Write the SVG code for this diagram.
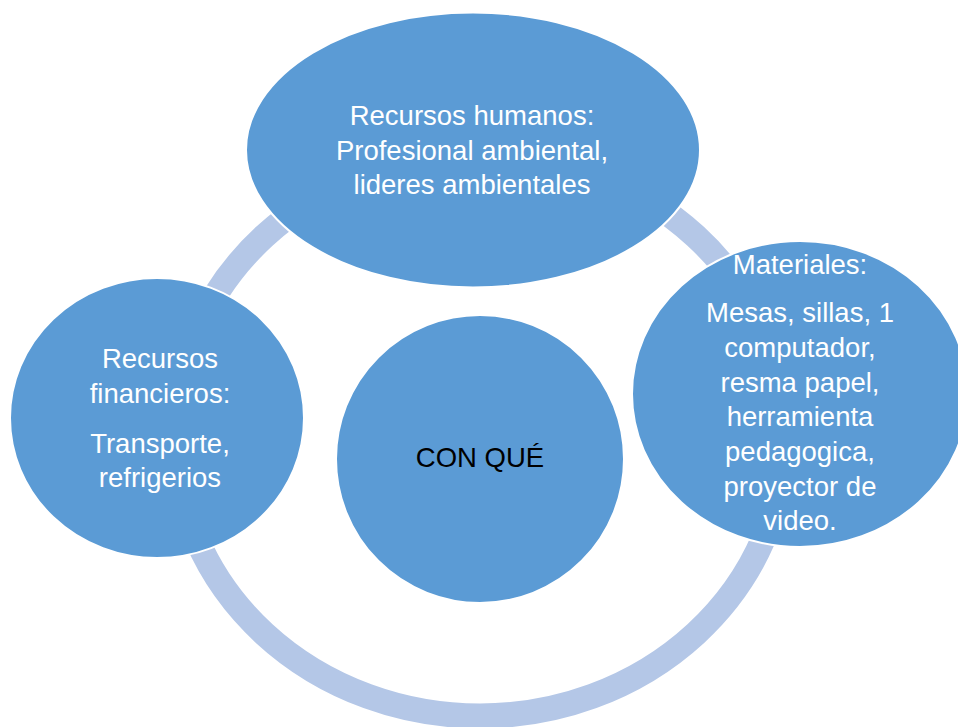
<svg xmlns="http://www.w3.org/2000/svg" width="958" height="727" viewBox="0 0 958 727">
<style>
.node{fill:#5B9BD5;stroke:#FFFFFF;stroke-width:2}
.lbl{font-family:"Liberation Sans",Arial,sans-serif;font-size:27.5px;fill:#FFFFFF;text-anchor:middle}
.dark{fill:#000000}
</style>
<rect width="958" height="727" fill="#FFFFFF"/>
<g id="connectors">
<ellipse cx="480" cy="435" rx="305" ry="281" fill="none" stroke="#B4C7E7" stroke-width="25"/>
</g>
<g id="node-top">
<ellipse class="node" cx="473" cy="150" rx="227" ry="137.5"/>
<text class="lbl" x="472" y="125">Recursos humanos:</text>
<text class="lbl" x="472" y="160">Profesional ambiental,</text>
<text class="lbl" x="472" y="194">lideres ambientales</text>
</g>
<g id="node-right">
<ellipse class="node" cx="800" cy="394" rx="168" ry="153"/>
<text class="lbl" x="800" y="274">Materiales:</text>
<text class="lbl" x="800" y="322">Mesas, sillas, 1</text>
<text class="lbl" x="800" y="357">computador,</text>
<text class="lbl" x="800" y="391.5">resma papel,</text>
<text class="lbl" x="800" y="426">herramienta</text>
<text class="lbl" x="800" y="461">pedagogica,</text>
<text class="lbl" x="800" y="495.5">proyector de</text>
<text class="lbl" x="800" y="530">video.</text>
</g>
<g id="node-left">
<ellipse class="node" cx="157" cy="418" rx="147" ry="140"/>
<text class="lbl" x="160" y="368">Recursos</text>
<text class="lbl" x="160" y="403">financieros:</text>
<text class="lbl" x="160" y="453">Transporte,</text>
<text class="lbl" x="160" y="487">refrigerios</text>
</g>
<g id="node-center">
<circle class="node" cx="480" cy="459" r="144"/>
<text class="lbl dark" x="480" y="467">CON QUÉ</text>
</g>
</svg>
